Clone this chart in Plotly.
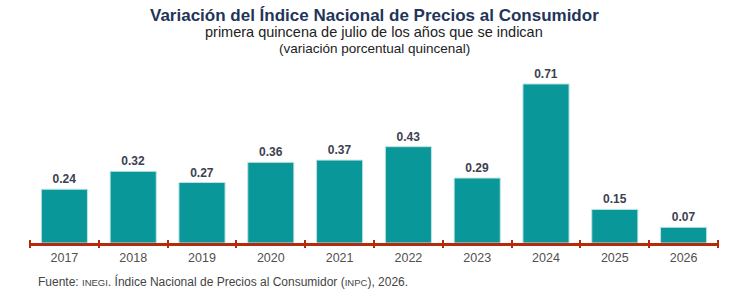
import plotly.graph_objects as go

years = ["2017", "2018", "2019", "2020", "2021", "2022", "2023", "2024", "2025", "2026"]
values = [0.24, 0.32, 0.27, 0.36, 0.37, 0.43, 0.29, 0.71, 0.15, 0.07]

FONT = "Liberation Sans, Arial, sans-serif"
AXIS_RED = "#B5290C"

PLOT_H = 296 - 60 - 53  # plot area height in px

fig = go.Figure()
fig.add_trace(go.Bar(
    x=years, y=values,
    marker=dict(color="#0A9799", line=dict(color="#BFE3E3", width=1)),
    width=0.67,
    text=[f"{v:.2f}" for v in values],
    textposition="outside",
    textfont=dict(family=FONT, size=12, color="#3C4150"),
    cliponaxis=False,
    texttemplate="<b>%{text}</b>",
))
# invisible trace on helper axis used only to draw ticks crossing the axis line
fig.add_trace(go.Scatter(x=years, y=[0]*len(years), xaxis="x2", yaxis="y",
                         mode="markers", marker=dict(opacity=0), showlegend=False,
                         hoverinfo="skip"))

cat_range = [-0.5, len(years) - 0.5]

fig.update_layout(
    width=753, height=296,
    margin=dict(l=30, r=35, t=60, b=53),
    paper_bgcolor="white", plot_bgcolor="white",
    showlegend=False,
    xaxis=dict(
        type="category", range=cat_range, showline=True, linecolor=AXIS_RED, linewidth=2.5,
        ticks="", tickson="boundaries",
        tickfont=dict(family=FONT, size=12.5, color="#505050"), showgrid=False,
        zeroline=False, ticklabelstandoff=1,
    ),
    xaxis2=dict(
        type="category", range=cat_range, anchor="free", position=4.5 / PLOT_H,
        overlaying="x", side="bottom",
        showline=False, ticks="outside", tickson="boundaries", tickcolor=AXIS_RED,
        ticklen=8, tickwidth=2, showticklabels=False, showgrid=False, zeroline=False,
    ),
    yaxis=dict(range=[0, PLOT_H / 224.0], visible=False, showgrid=False, zeroline=False),
    annotations=[
        dict(text="<b>Variación del Índice Nacional de Precios al Consumidor</b>",
             xref="paper", yref="paper", x=0.5, y=1, yshift=45, showarrow=False,
             font=dict(family=FONT, size=17, color="#1F3559"), xanchor="center", yanchor="middle"),
        dict(text="primera quincena de julio de los años que se indican",
             xref="paper", yref="paper", x=0.5, y=1, yshift=28, showarrow=False,
             font=dict(family=FONT, size=14.5, color="#222222"), xanchor="center", yanchor="middle"),
        dict(text="(variación porcentual quincenal)",
             xref="paper", yref="paper", x=0.5, y=1, yshift=11.5, showarrow=False,
             font=dict(family=FONT, size=13.5, color="#222222"), xanchor="center", yanchor="middle"),
        dict(text="Fuente: <span style='font-size:9.5px'>INEGI</span>. Índice Nacional de Precios al Consumidor (<span style='font-size:9.5px'>INPC</span>), 2026.",
             xref="paper", yref="paper", x=0, y=0, xshift=6, yshift=-38, showarrow=False,
             font=dict(family=FONT, size=12, color="#444444"), xanchor="left", yanchor="middle"),
    ],
)

fig.write_html("out.html")
